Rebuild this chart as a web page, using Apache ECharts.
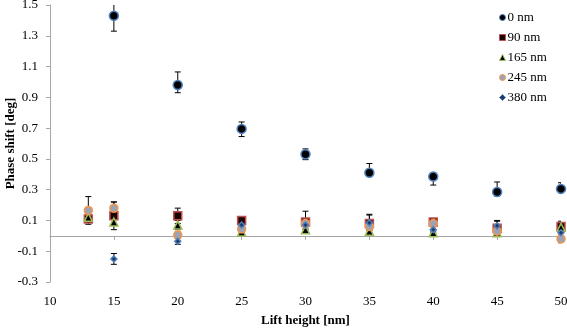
<!DOCTYPE html>
<html>
<head>
<meta charset="utf-8">
<script src="https://cdn.jsdelivr.net/npm/echarts@6/dist/echarts.min.js"></script>
<style>
  html, body { margin: 0; padding: 0; background: #fff; }
  #chart { width: 567px; height: 328px; }
</style>
</head>
<body>
<div id="chart"></div>
<script>
// Phase shift vs lift height for several film thicknesses
const seriesNames = ['0 nm', '90 nm', '165 nm', '245 nm', '380 nm'];

const x0 = [15, 20, 25, 30, 35, 40, 45, 50];
const y0 = [1.43, 0.98, 0.695, 0.53, 0.41, 0.385, 0.285, 0.305];
const up0 = [0.10, 0.085, 0.045, 0.035, 0.06, 0.015, 0.065, 0.04];
const dn0 = [0.10, 0.05, 0.05, 0.035, 0.02, 0.055, 0.025, 0.025];

const x90 = [13, 15, 20, 25, 30, 35, 40, 45, 50];
const y90 = [0.11, 0.13, 0.13, 0.10, 0.09, 0.08, 0.09, 0.05, 0.06];
const e90 = [0.02, 0.09, 0.05, 0.02, 0.07, 0.06, 0.02, 0.05, 0.035];

const x165 = [13, 15, 20, 25, 30, 35, 40, 45, 50];
const y165 = [0.12, 0.09, 0.07, 0.025, 0.04, 0.03, 0.02, 0.02, 0.055];
const e165 = [0.02, 0.02, 0.03, 0.01, 0.02, 0.01, 0.01, 0.02, 0.02];

const x245 = [13, 15, 20, 25, 30, 35, 40, 45, 50];
const y245 = [0.165, 0.18, 0.005, 0.045, 0.08, 0.06, 0.08, 0.03, -0.02];
const e245 = [0.09, 0.04, 0.02, 0.02, 0.03, 0.02, 0.02, 0.03, 0.025];

const x380 = [15, 20, 25, 30, 35, 40, 45, 50];
const y380 = [-0.15, -0.035, 0.07, 0.07, 0.085, 0.04, 0.065, 0.02];
const e380 = [0.035, 0.02, 0.02, 0.03, 0.05, 0.02, 0.03, 0.03];

const xTicks = [10, 15, 20, 25, 30, 35, 40, 45, 50];
const yTicks = [-0.3, -0.1, 0.1, 0.3, 0.5, 0.7, 0.9, 1.1, 1.3, 1.5];

const FONT = '"Liberation Serif", "Times New Roman", serif';

const markers = [
  { symbol: 'circle',   size: 9, fill: '#000000', border: '#4f81bd' },
  { symbol: 'rect',     size: 8, fill: '#1a0505', border: '#c0504d' },
  { symbol: 'triangle', size: 8, fill: '#000000', border: '#9bbb59' },
  { symbol: 'circle',   size: 8, fill: '#9da3b4', border: '#f79646' },
  { symbol: 'diamond',  size: 6, fill: '#1f3864', border: '#4f81bd' }
];

const groups = [
  { xs: x0,   ys: y0,   up: up0,  dn: dn0 },
  { xs: x90,  ys: y90,  up: e90,  dn: e90 },
  { xs: x165, ys: y165, up: e165, dn: e165 },
  { xs: x245, ys: y245, up: e245, dn: e245 },
  { xs: x380, ys: y380, up: e380, dn: e380 }
];

function errorBarRender(params, api) {
  const x = api.value(0);
  const lo = api.coord([x, api.value(1)]);
  const hi = api.coord([x, api.value(2)]);
  const cap = 3;
  const style = { stroke: '#000', lineWidth: 1 };
  return {
    type: 'group',
    children: [
      { type: 'line', shape: { x1: lo[0], y1: lo[1], x2: hi[0], y2: hi[1] }, style },
      { type: 'line', shape: { x1: lo[0] - cap, y1: lo[1], x2: lo[0] + cap, y2: lo[1] }, style },
      { type: 'line', shape: { x1: hi[0] - cap, y1: hi[1], x2: hi[0] + cap, y2: hi[1] }, style }
    ]
  };
}

const series = [];
groups.forEach((g, i) => {
  series.push({
    type: 'custom',
    name: seriesNames[i] + ' err',
    xAxisIndex: 0,
    renderItem: errorBarRender,
    clip: true,
    z: 1,
    silent: true,
    data: g.xs.map((x, k) => [x, g.ys[k] - g.dn[k], g.ys[k] + g.up[k]])
  });
});
groups.forEach((g, i) => {
  const m = markers[i];
  series.push({
    type: 'scatter',
    name: seriesNames[i],
    xAxisIndex: 0,
    symbol: m.symbol,
    symbolSize: m.size,
    z: 3,
    itemStyle: { color: m.fill, borderColor: m.border, borderWidth: 1.5, opacity: 1 },
    data: g.xs.map((x, k) => [x, g.ys[k]])
  });
});

const chart = echarts.init(document.getElementById('chart'));
chart.setOption({
  animation: false,
  backgroundColor: '#ffffff',
  textStyle: { fontFamily: FONT },
  grid: { left: 50, right: 6, top: 5, bottom: 46, containLabel: false, outerBoundsMode: 'none' },
  legend: {
    data: seriesNames.map((n, i) => ({
      name: n,
      icon: markers[i].symbol,
      itemStyle: { color: markers[i].fill, borderColor: markers[i].border, borderWidth: 1 }
    })),
    orient: 'vertical',
    left: 494,
    top: 6,
    padding: 5,
    itemWidth: 6,
    itemHeight: 6,
    itemGap: 7,
    textStyle: { fontFamily: FONT, fontSize: 13, color: '#000', padding: [0, 0, 0, -3] }
  },
  xAxis: [
    {
      type: 'value',
      min: xTicks[0],
      max: xTicks[xTicks.length - 1],
      interval: 5,
      position: 'bottom',
      axisLine: { show: false, onZero: false },
      axisTick: { show: false },
      splitLine: { show: false },
      axisLabel: { color: '#000', fontFamily: FONT, fontSize: 13, margin: 13 },
      name: 'Lift height [nm]',
      nameLocation: 'middle',
      nameGap: 32,
      nameMoveOverlap: false,
      nameTextStyle: { fontFamily: FONT, fontSize: 13, fontWeight: 'bold', color: '#000' }
    },
    {
      type: 'value',
      min: xTicks[0],
      max: xTicks[xTicks.length - 1],
      interval: 5,
      position: 'top',
      axisLine: { show: true, onZero: true, onZeroAxisIndex: 0, lineStyle: { color: '#a6a6a6', width: 1 } },
      axisTick: { show: true, inside: true, length: 4, lineStyle: { color: '#a6a6a6' } },
      axisLabel: { show: false },
      splitLine: { show: false }
    }
  ],
  yAxis: {
    type: 'value',
    min: yTicks[0],
    max: yTicks[yTicks.length - 1],
    interval: 0.2,
    axisLine: { show: true, onZero: false, lineStyle: { color: '#a6a6a6', width: 1 } },
    axisTick: { show: true, length: 4, lineStyle: { color: '#a6a6a6' } },
    splitLine: { show: false },
    axisLabel: {
      color: '#000', fontFamily: FONT, fontSize: 13, margin: 12,
      formatter: v => (Math.round(v * 10) / 10).toFixed(1)
    },
    name: 'Phase shift [deg]',
    nameLocation: 'middle',
    nameGap: 33,
    nameRotate: 90,
    nameMoveOverlap: false,
    nameTextStyle: { fontFamily: FONT, fontSize: 13, fontWeight: 'bold', color: '#000' }
  },
  series: series
});
</script>
</body>
</html>
